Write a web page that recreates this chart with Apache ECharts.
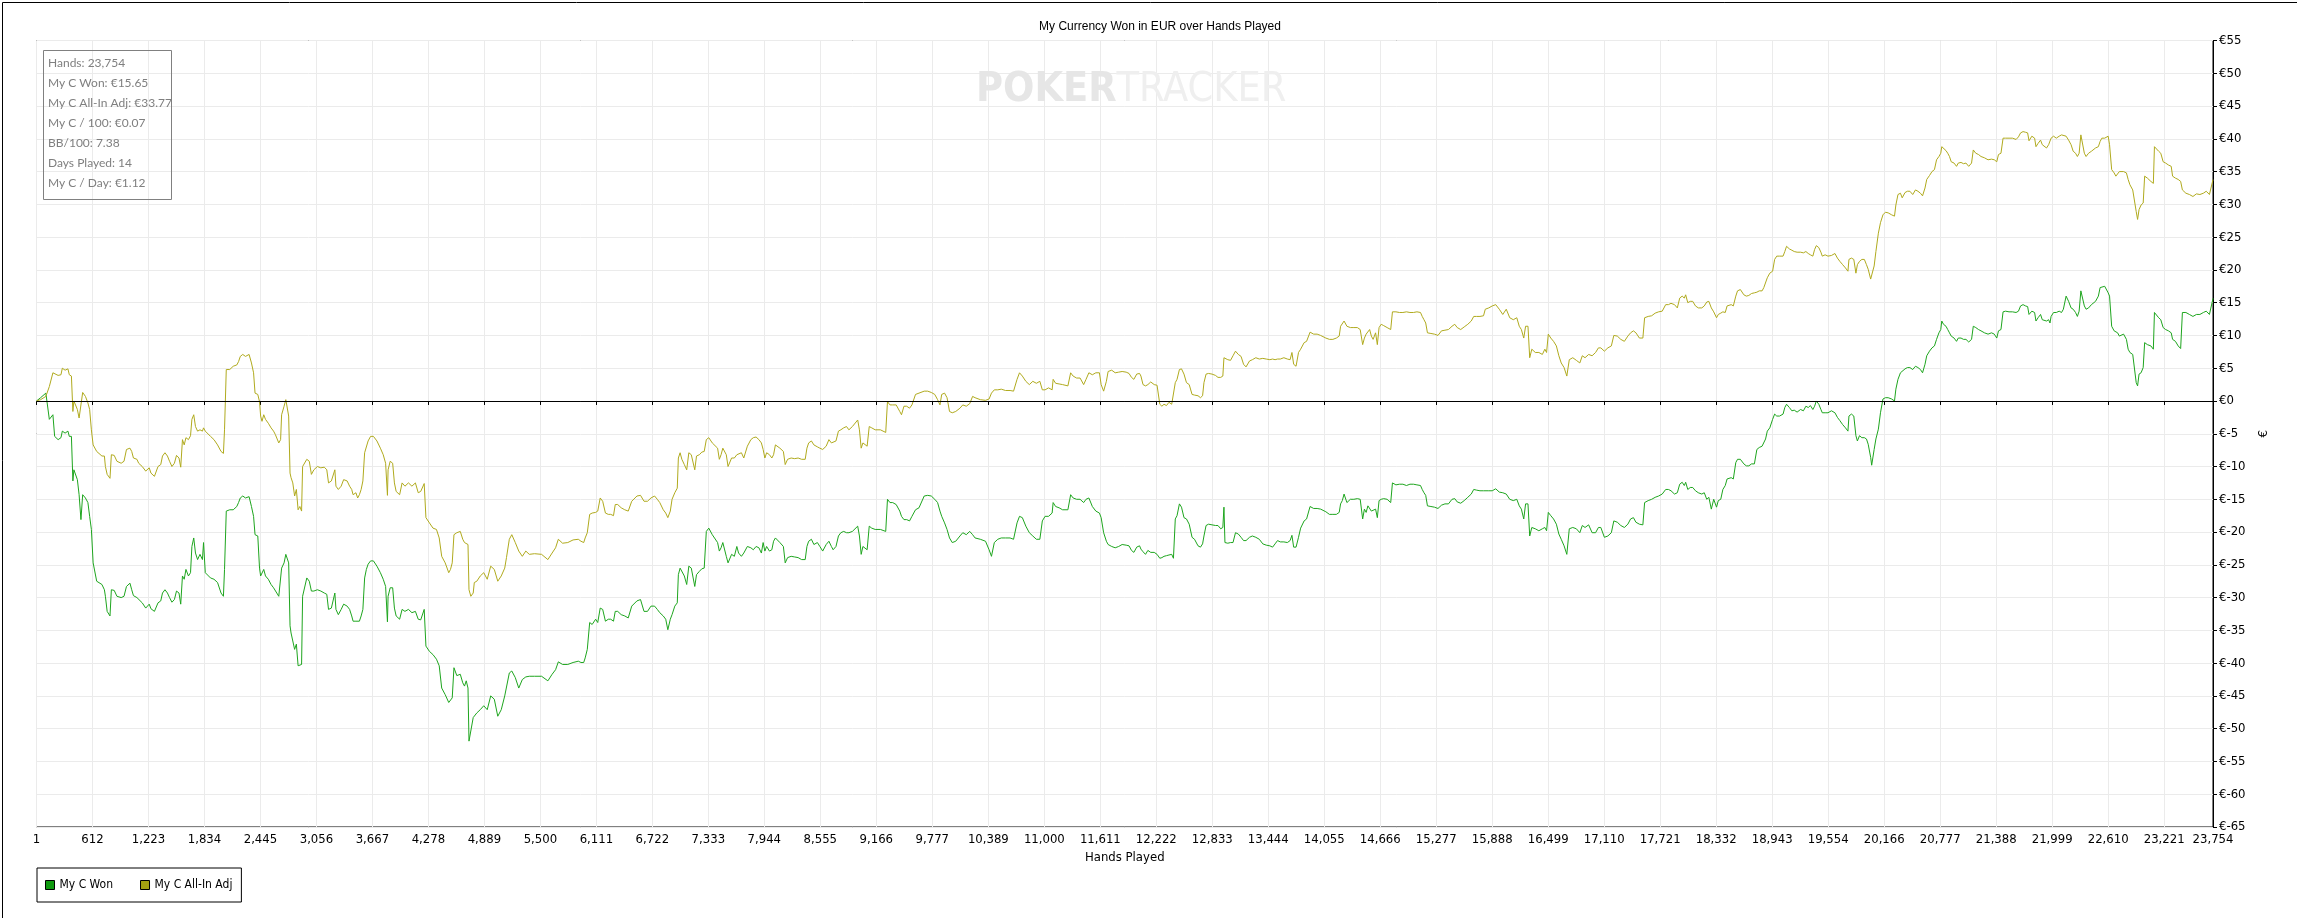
<!DOCTYPE html>
<html>
<head>
<meta charset="utf-8">
<script src="https://cdn.jsdelivr.net/npm/echarts@6/dist/echarts.min.js"></script>
<style>
html,body{margin:0;padding:0;background:#fff;}
#chart{width:2297px;height:918px;}
</style>
</head>
<body>
<div id="chart"></div>
<script>
// ---- Data ----
const titleText = 'My Currency Won in EUR over Hands Played';
const seriesNames = ['My C Won', 'My C All-In Adj'];
const xTickValues = [1,612,1223,1834,2445,3056,3667,4278,4889,5500,6111,6722,7333,7944,8555,9166,9777,10389,11000,11611,12222,12833,13444,14055,14666,15277,15888,16499,17110,17721,18332,18943,19554,20166,20777,21388,21999,22610,23221,23754];
const statsLines = ['Hands: 23,754','My C Won: €15.65','My C All-In Adj: €33.77','My C / 100: €0.07','BB/100: 7.38','Days Played: 14','My C / Day: €1.12'];

const hands = [
1,46,103,141,180,199,237,268,283,313,344,359,382,398,409,428,447,466,486,505,535,562,581,600,619,658,677,715,742,753,772,803,818,849,879,925,956,983,1021,1040,1059,1097,1116,1155,1193,1231,1250,1288,1307,1327,1357,1376,1403,1430,1453,1479,1506,1529,1556,1575,1594,1613,1632,1659,1682,1697,1717,1736,1759,1785,1812,1824,1843,1862,1900,1938,1977,2015,2041,2053,2072,2110,2148,2187,2206,2225,2252,2282,2321,2347,2370,2386,2416,2435,2447,2462,2481,2500,2531,2561,2588,2607,2645,2665,2676,2703,2722,2753,2768,2779,2798,2818,2837,2856,2875,2894,2905,2925,2951,2978,3001,3028,3066,3104,3142,3169,3188,3219,3257,3269,3295,3326,3353,3391,3418,3441,3456,3487,3506,3525,3544,3563,3582,3601,3620,3647,3678,3716,3754,3785,3811,3831,3838,3861,3888,3907,3926,3964,3991,4022,4060,4098,4136,4167,4194,4232,4251,4289,4328,4366,4396,4423,4461,4500,4519,4538,4557,4588,4626,4653,4672,4691,4710,4721,4741,4767,4779,4806,4844,4882,4920,4958,4997,5035,5073,5111,5130,5161,5188,5226,5264,5303,5341,5379,5436,5513,5582,5628,5666,5696,5742,5799,5857,5914,
5943,5973,5989,6012,6038,6065,6103,6126,6153,6180,6210,6241,6268,6298,6317,6344,6382,6421,6459,6497,6516,6554,6593,6612,6631,6669,6707,6746,6776,6803,6841,6868,6891,6918,6937,6967,6994,7006,7025,7044,7071,7097,7120,7147,7166,7185,7204,7235,7262,7288,7311,7338,7357,7376,7395,7434,7453,7472,7491,7510,7529,7548,7568,7587,7617,7644,7663,7694,7720,7740,7759,7797,7824,7854,7885,7912,7931,7950,7969,8000,8026,8045,8065,8084,8114,8152,8172,8198,8237,8275,8313,8351,8390,8409,8428,8458,8485,8523,8550,8581,8600,8619,8649,8676,8695,8726,8753,8779,8810,8841,8867,8905,8925,8963,8982,9001,9020,9039,9066,9089,9116,9154,9211,9269,9288,9315,9345,9383,9422,9441,9468,9498,9529,9555,9594,9632,9689,9727,9766,9804,9835,9861,9880,9911,9938,9965,9995,10033,10053,10079,10110,10148,10186,10217,10244,10301,10358,10377,10397,10423,10454,10492,10530,10576,10626,10664,10702,10729,10760,10798,10836,10874,10913,10951,10978,11008,11046,11085,11096,11123,11161,11199,11257,11287,11314,11352,11390,11429,11455,11486,11524,11562,11601,11620,11647,11677,11696,11735,11773,11811,11849,
11855,11893,11924,11951,11977,12008,12039,12054,12077,12104,12130,12161,12180,12199,12230,12245,12260,12283,12306,12333,12360,12390,12409,12429,12448,12474,12497,12524,12551,12581,12612,12639,12677,12704,12727,12742,12765,12792,12830,12868,12895,12925,12948,12960,12971,13002,13032,13059,13086,13117,13147,13174,13201,13239,13270,13308,13346,13384,13422,13461,13491,13518,13545,13575,13614,13652,13682,13702,13721,13747,13774,13797,13835,13862,13900,13939,13977,14015,14072,14111,14149,14187,14218,14233,14252,14271,14302,14340,14378,14416,14447,14474,14493,14512,14531,14550,14569,14588,14615,14634,14653,14676,14703,14741,14780,14799,14837,14875,14913,14952,14990,15028,15066,15105,15124,15143,15162,15181,15219,15257,15296,15334,15372,15410,15449,15479,15506,15544,15582,15621,15659,15686,15716,15754,15793,15812,15850,15888,15926,15965,16003,16041,16079,16118,16156,16183,16206,16232,16252,16278,16297,16320,16358,16397,16435,16462,16481,16500,16527,16557,16588,16615,16641,16672,16702,16729,16767,16806,16844,16871,16901,16940,16978,17016,17047,17073,17112,17150,17188,17215,17253,17291,17330,17368,17398,17429,17456,17494,17532,17551,17590,17628,17666,17704,17743,17781,17811,
17820,17839,17877,17908,17934,17961,17984,17999,18022,18049,18076,18106,18137,18175,18202,18229,18252,18279,18305,18336,18355,18382,18405,18431,18451,18470,18496,18519,18546,18565,18596,18611,18634,18661,18688,18718,18749,18776,18802,18833,18852,18871,18890,18917,18948,18970,18993,19024,19062,19081,19100,19131,19158,19184,19215,19253,19284,19311,19337,19360,19387,19406,19425,19452,19475,19490,19521,19552,19590,19628,19655,19682,19712,19743,19770,19781,19808,19834,19857,19873,19896,19922,19949,19972,19991,20018,20029,20056,20075,20102,20125,20152,20179,20209,20247,20278,20293,20316,20343,20362,20393,20419,20446,20477,20507,20534,20561,20584,20611,20630,20660,20687,20714,20737,20763,20783,20794,20813,20840,20859,20878,20897,20928,20955,20974,21004,21031,21058,21088,21119,21138,21165,21195,21222,21260,21299,21337,21367,21394,21413,21440,21463,21490,21528,21566,21605,21631,21654,21681,21708,21731,21746,21777,21807,21822,21845,21872,21891,21910,21937,21960,21975,21987,22014,22044,22075,22101,22121,22151,22178,22205,22228,22254,22274,22293,22312,22331,22350,22369,22396,22427,22446,22472,22503,22522,22541,22572,22587,22610,22625,22648,22675,22694,22713,22732,22751,22778,22809,22828,22847,22878,22893,22916,22931,22947,22969,22992,23008,23038,23076,23103,23115,23134,23161,23184,23210,23237,23268,23298,23313,23344,23374,23401,23420,23458,23497,23535,23573,23611,23649,23680,23699,23715,23754
];

const allInAdj = [
0,0.2,0.7,2.2,4.3,4.3,3.9,4.0,5.0,4.7,4.9,4.0,3.8,-1.6,0,0.1,-1.3,-2.6,-2.6,1.3,0.7,-0.3,-1.3,-4.4,-6.7,-7.7,-7.9,-8.4,-8.4,-10.0,-11.2,-11.8,-8.2,-8.3,-9.2,-9.5,-9.2,-7.4,-7.2,-7.7,-8.7,-8.9,-9.5,-10.0,-10.7,-10.2,-11.0,-11.5,-11.2,-10.0,-9.7,-8.4,-7.9,-8.4,-9.2,-10.0,-9.5,-8.3,-8.7,-10.1,-5.9,-6.7,-5.6,-5.9,-5.3,-2.8,-2.1,-3.9,-4.6,-4.4,-4.6,-4.1,-4.6,-4.9,-5.4,-5.9,-6.7,-7.7,-8.0,-4.4,4.8,4.8,5.3,5.5,6.0,6.8,7.1,6.8,7.1,5.8,4.3,1.2,1.0,-0.1,-2.3,-3.1,-2.1,-2.8,-3.4,-4.1,-4.6,-5.1,-6.4,-5.9,-2.1,-0.8,0.2,-2.3,-11.0,-11.7,-12.5,-14.5,-13.5,-16.6,-16.1,-16.8,-10.0,-10.0,-8.9,-9.2,-11.2,-10.5,-10.0,-10.2,-10.1,-10.5,-12.5,-12.2,-10.5,-13.0,-13.5,-13.0,-12.0,-12.2,-13.0,-13.5,-14.3,-14.0,-14.8,-14.3,-13.5,-12.2,-7.9,-7.7,-6.1,-5.4,-5.4,-6.1,-7.2,-8.2,-9.5,-14.4,-10.5,-9.2,-9.5,-12.5,-13.8,-14.3,-12.5,-13.0,-12.5,-13.0,-12.5,-14.0,-13.8,-12.6,-17.8,-18.6,-19.4,-19.6,-20.9,-23.7,-24.7,-26.2,-25.7,-24.7,-20.4,-20.1,-19.9,-21.1,-21.6,-21.4,-21.9,-28.8,-29.8,-29.3,-27.7,-27.5,-26.7,-26.2,-27.2,-25.2,-25.7,-27.5,-26.7,-25.5,-23.9,-21.1,-20.4,-21.6,-22.9,-23.7,-22.9,-23.4,-23.3,-23.4,-24.2,-23.2,-22.4,-21.1,-21.7,-21.6,-21.2,-21.1,
-21.4,-21.6,-20.9,-20.1,-17.3,-17.1,-17.0,-16.8,-14.8,-15.3,-17.1,-17.3,-17.3,-17.5,-15.8,-15.8,-16.3,-16.6,-16.8,-15.3,-15.0,-14.5,-14.4,-14.3,-15.3,-15.3,-14.8,-14.5,-15.0,-15.5,-16.6,-17.1,-17.8,-16.8,-15.0,-14.0,-13.3,-8.7,-7.9,-8.9,-9.7,-10.5,-7.9,-8.2,-8.4,-10.5,-8.4,-8.2,-7.8,-7.7,-5.9,-5.6,-5.4,-6.4,-6.7,-7.2,-8.9,-8.2,-7.2,-6.9,-8.2,-10.0,-9.7,-8.7,-8.7,-8.2,-8.4,-7.9,-8.7,-8.4,-6.9,-5.9,-5.6,-5.5,-5.9,-6.4,-7.4,-8.7,-7.9,-8.2,-8.7,-8.2,-6.7,-6.7,-7.2,-7.7,-9.7,-8.9,-8.7,-8.8,-8.7,-8.9,-8.9,-7.2,-6.4,-6.1,-6.7,-7.0,-7.2,-7.4,-7.7,-6.9,-5.9,-6.4,-6.7,-6.1,-4.6,-4.4,-4.1,-3.9,-4.4,-3.9,-3.6,-2.9,-4.4,-7.2,-6.4,-6.7,-6.9,-3.9,-4.1,-4.4,-4.4,-4.8,-0.1,-0.6,-0.6,-0.6,-1.6,-2.1,-0.8,-0.8,-1.1,-0.6,1.0,1.2,1.5,1.5,1.3,1.0,0.2,-0.6,1.0,1.2,0.5,-1.6,-1.8,-1.6,-1.8,-1.1,-0.6,-0.8,-0.4,0.7,0.5,0.2,0.1,-0.2,0.3,1.2,1.7,1.7,1.8,1.6,1.6,1.5,3.3,4.3,3.8,3.0,2.5,3.0,2.7,3.0,1.7,1.7,2.0,1.7,3.3,2.7,2.6,2.5,2.3,4.3,3.8,3.5,3.5,2.5,3.3,4.3,4.0,4.3,4.3,2.5,1.5,3.0,4.5,4.7,4.3,4.4,4.5,
4.6,4.4,4.2,3.6,3.3,4.1,4.2,3.8,2.5,2.3,2.5,2.9,2.8,2.5,2.4,2.3,-0.5,-0.8,-0.5,-0.7,-0.2,-0.5,-0.8,2.8,3.3,4.8,4.9,4.1,2.8,2.5,1.0,0.9,0.8,0.5,0.8,2.8,4.1,4.2,4.1,3.9,3.6,3.6,3.8,6.6,6.4,6.3,6.2,6.9,7.6,7.1,6.8,5.6,5.2,6.1,6.3,6.6,6.4,6.5,6.4,6.3,6.4,6.3,6.4,6.4,6.6,6.4,6.3,7.4,5.6,5.3,7.4,7.9,8.9,9.1,10.5,10.2,10.2,10.0,9.6,9.4,9.4,9.6,9.9,11.4,11.2,12.2,11.4,11.2,11.2,11.2,10.9,8.6,9.6,10.2,10.4,10.9,9.9,9.4,10.4,8.6,11.2,11.7,11.5,11.2,10.9,13.6,13.6,13.5,13.5,13.6,13.5,13.5,13.6,13.5,12.9,12.4,11.9,10.4,10.3,10.2,10.0,10.7,10.8,10.9,11.4,11.7,11.2,10.9,11.3,11.7,12.2,12.9,12.9,12.9,13.0,14.0,14.2,14.5,14.7,14.0,13.2,14.0,12.7,12.4,12.7,11.4,10.9,9.6,11.4,11.4,6.6,7.9,7.4,7.4,7.1,7.9,7.4,10.2,9.6,9.1,8.4,6.9,5.8,5.1,3.8,6.3,6.6,6.2,5.8,6.9,6.6,7.1,6.9,7.4,8.1,8.1,7.6,8.1,8.4,10.0,9.9,9.4,9.1,9.9,10.4,10.7,10.4,9.6,9.6,12.7,12.9,13.0,13.4,13.6,13.7,14.7,14.7,
14.9,14.9,14.7,14.2,15.7,16.0,15.7,16.2,15.0,15.2,15.2,14.5,14.2,14.2,14.5,15.1,15.2,14.2,13.6,12.7,13.2,13.4,13.6,13.5,14.5,14.2,14.7,14.5,16.0,16.8,17.0,17.1,16.2,16.0,16.1,16.4,16.5,16.6,16.8,16.8,17.3,17.5,18.8,19.5,19.8,21.6,22.1,22.1,22.1,22.8,23.6,23.2,23.0,22.8,22.7,22.7,22.6,22.8,22.5,22.3,22.1,23.1,23.7,23.4,22.7,22.1,22.3,22.1,22.2,22.5,21.8,21.3,20.8,20.3,19.8,21.6,21.8,21.6,19.5,20.8,21.3,21.6,21.6,20.8,20.1,18.6,18.8,20.6,22.8,25.6,27.2,28.4,28.8,28.7,28.4,28.2,29.9,31.5,31.7,31.0,31.8,32.0,32.0,31.5,32.2,32.0,31.7,31.3,32.5,33.8,34.4,35.0,35.3,36.8,37.3,37.8,38.8,38.6,38.2,37.8,37.3,36.5,36.3,35.8,36.3,36.4,36.2,36.3,35.8,36.3,38.3,37.8,37.6,37.3,37.1,36.8,36.9,36.8,36.5,37.6,37.8,40.1,40.1,40.1,40.1,39.9,40.3,40.9,41.1,41.0,40.9,39.7,40.4,40.1,38.8,39.3,39.8,39.1,39.1,38.6,39.1,38.8,40.1,40.4,40.1,40.4,40.6,40.9,40.4,39.8,39.1,38.1,37.8,37.3,37.8,40.6,40.4,37.8,37.3,37.8,38.1,37.8,38.6,38.8,39.6,40.1,40.1,40.4,40.4,39.1,35.3,34.8,34.3,34.5,35.0,35.3,35.0,34.8,33.8,33.0,32.2,32.5,28.9,27.7,29.2,29.9,30.2,34.3,34.0,33.5,33.2,38.8,38.6,38.1,37.8,36.5,36.3,36.0,35.8,34.3,34.0,33.8,33.5,32.2,31.7,31.5,31.2,31.6,31.5,31.7,32.0,32.2,31.5,33.77
];

const won = [
0,0.5,1.2,-2.8,-2.1,-5.4,-5.9,-5.6,-4.6,-4.9,-4.6,-5.4,-5.4,-12.2,-10.5,-10.7,-12.0,-14.3,-18.1,-14.3,-14.8,-15.5,-17.6,-19.6,-24.7,-27.5,-27.7,-28.0,-28.8,-29.8,-32.1,-32.8,-28.8,-28.9,-29.8,-30.0,-29.8,-28.3,-27.8,-28.8,-29.7,-30.0,-30.3,-30.8,-31.6,-31.0,-31.7,-32.1,-32.3,-30.8,-30.5,-29.3,-28.8,-29.3,-30.0,-30.7,-30.3,-29.0,-29.3,-31.0,-26.7,-27.2,-25.7,-26.7,-26.2,-22.2,-20.9,-23.2,-24.2,-23.4,-24.2,-21.6,-26.2,-26.5,-27.0,-27.2,-27.7,-29.3,-29.8,-25.7,-16.8,-16.6,-16.6,-16.1,-15.5,-14.8,-14.5,-14.8,-14.6,-16.1,-17.6,-20.4,-20.6,-25.5,-26.7,-27.0,-25.7,-26.7,-27.2,-28.0,-28.5,-28.8,-29.8,-30.0,-25.5,-24.7,-23.4,-24.7,-34.3,-35.4,-35.6,-37.9,-37.1,-40.4,-40.4,-40.2,-29.8,-29.5,-27.0,-27.5,-29.0,-29.0,-28.8,-29.0,-29.3,-29.5,-31.8,-31.6,-29.3,-31.8,-32.6,-31.8,-31.0,-31.3,-31.8,-32.8,-33.6,-33.6,-33.8,-33.6,-32.8,-31.8,-27.0,-25.7,-24.9,-24.4,-24.4,-25.2,-26.2,-27.2,-28.3,-33.7,-29.8,-28.5,-28.5,-31.6,-32.8,-33.3,-31.8,-32.1,-31.8,-32.3,-32.1,-33.3,-33.4,-31.8,-37.4,-38.2,-38.7,-39.4,-40.4,-43.8,-44.8,-46.0,-46.3,-45.3,-40.7,-41.9,-41.7,-43.0,-43.5,-42.7,-43.8,-51.9,-52.1,-48.3,-48.1,-47.6,-47.1,-46.5,-47.1,-45.0,-45.5,-48.1,-47.1,-45.0,-44.8,-41.5,-41.2,-42.2,-43.8,-42.5,-42.1,-42.0,-42.0,-42.0,-42.7,-41.7,-41.0,-39.8,-40.2,-40.2,-39.9,-39.7,
-39.9,-39.9,-39.2,-37.9,-33.8,-34.1,-33.3,-33.8,-31.6,-31.8,-33.6,-33.3,-33.3,-33.6,-32.1,-32.1,-32.6,-32.8,-33.1,-31.3,-31.0,-30.5,-30.3,-30.3,-32.1,-32.1,-31.3,-31.3,-31.8,-32.3,-32.8,-33.3,-34.9,-33.3,-32.6,-31.3,-30.8,-26.5,-25.5,-25.7,-26.7,-28.0,-25.2,-25.5,-25.7,-28.3,-26.5,-26.0,-25.6,-25.5,-19.9,-19.4,-19.6,-20.4,-20.6,-21.6,-22.9,-22.4,-21.6,-21.4,-23.7,-24.7,-24.4,-23.4,-23.7,-22.2,-23.2,-23.7,-23.2,-23.4,-22.2,-22.4,-22.7,-22.2,-22.4,-23.2,-21.6,-22.9,-22.2,-22.9,-22.7,-21.4,-20.9,-21.1,-21.6,-22.2,-24.7,-23.9,-23.7,-23.8,-23.9,-24.2,-24.2,-22.2,-21.4,-21.1,-21.9,-21.6,-22.2,-22.9,-23.2,-21.9,-21.4,-22.2,-22.7,-22.2,-20.6,-20.1,-19.9,-20.1,-20.1,-19.9,-19.6,-19.1,-20.6,-23.4,-22.2,-22.4,-22.7,-19.1,-19.4,-19.6,-19.6,-19.9,-15.0,-15.5,-15.5,-15.8,-16.8,-17.6,-18.1,-18.1,-18.3,-17.6,-16.6,-16.3,-14.5,-14.4,-14.5,-15.0,-15.5,-16.8,-17.6,-18.6,-19.6,-20.9,-21.6,-21.4,-21.4,-20.6,-20.1,-20.4,-19.9,-20.4,-20.9,-21.1,-21.4,-21.6,-22.7,-23.7,-21.6,-21.1,-20.9,-20.9,-20.9,-21.1,-18.6,-17.6,-17.8,-19.1,-20.1,-20.6,-21.1,-21.1,-18.3,-17.6,-17.6,-17.1,-15.5,-16.1,-16.3,-16.6,-16.6,-14.3,-14.8,-15.0,-15.0,-15.5,-15.0,-14.8,-16.1,-16.8,-17.1,-17.8,-20.1,-21.4,-21.9,-22.2,-22.4,-22.2,-21.9,
-21.8,-22.0,-22.1,-22.8,-23.1,-22.3,-22.1,-22.6,-23.0,-23.4,-22.8,-23.1,-22.8,-23.1,-23.4,-23.1,-24.0,-23.9,-23.7,-23.6,-23.5,-23.4,-24.0,-18.0,-17.5,-15.7,-16.2,-17.8,-18.0,-18.8,-20.8,-21.1,-22.1,-22.3,-21.8,-20.6,-19.0,-18.8,-18.9,-19.0,-19.0,-19.5,-19.3,-16.2,-21.6,-21.7,-21.6,-21.6,-20.1,-20.3,-20.8,-21.3,-21.3,-20.8,-20.6,-20.8,-21.1,-21.8,-22.0,-22.1,-22.3,-21.8,-21.3,-21.5,-21.5,-21.6,-21.3,-20.5,-22.3,-22.3,-20.8,-19.4,-18.3,-18.0,-16.1,-16.4,-16.4,-16.5,-16.9,-17.3,-17.3,-17.3,-17.0,-15.7,-15.2,-14.2,-15.5,-15.0,-15.0,-14.9,-15.0,-18.0,-16.5,-17.0,-16.0,-15.7,-16.8,-16.8,-16.5,-17.8,-15.2,-15.0,-14.9,-15.0,-15.5,-12.5,-12.8,-12.7,-12.7,-12.9,-12.7,-12.7,-12.8,-12.9,-13.5,-14.0,-14.4,-16.0,-16.1,-16.2,-16.4,-15.9,-15.7,-15.7,-15.0,-14.9,-15.4,-15.6,-15.2,-14.7,-14.2,-13.5,-13.6,-13.7,-13.7,-13.9,-13.7,-13.7,-13.4,-13.9,-14.0,-14.2,-15.0,-15.2,-15.0,-16.0,-16.5,-18.0,-15.7,-15.7,-20.6,-19.3,-19.5,-19.8,-19.5,-19.3,-19.8,-17.0,-17.5,-18.0,-18.8,-20.3,-21.1,-22.1,-23.4,-19.5,-19.3,-19.5,-20.1,-19.0,-19.3,-18.9,-20.1,-20.1,-19.3,-19.3,-20.8,-20.6,-20.1,-18.3,-18.5,-19.0,-19.3,-18.8,-18.0,-17.8,-18.5,-18.8,-18.9,-15.5,-15.2,-15.0,-14.7,-14.5,-14.2,-13.5,-13.5,
-13.6,-13.7,-14.2,-14.0,-12.7,-12.4,-12.9,-12.4,-13.5,-13.2,-13.2,-13.7,-14.0,-14.2,-14.0,-15.0,-14.7,-16.5,-15.0,-16.2,-15.2,-15.0,-13.5,-12.9,-11.9,-12.2,-11.7,-11.9,-9.4,-8.9,-8.9,-9.1,-9.6,-9.9,-9.9,-9.6,-9.6,-7.4,-7.1,-6.9,-6.6,-5.8,-4.6,-4.1,-2.8,-2.0,-2.3,-2.3,-2.0,-1.0,-0.5,-1.0,-1.5,-1.4,-1.7,-1.3,-1.5,-0.8,-1.0,-0.7,-1.3,-0.8,0.0,-0.5,-1.3,-1.8,-1.8,-1.8,-1.5,-1.8,-2.5,-3.0,-3.6,-4.1,-4.6,-2.3,-2.0,-2.3,-5.3,-6.1,-5.3,-5.6,-5.6,-5.8,-6.6,-8.6,-9.8,-7.4,-5.8,-4.3,-1.8,0.3,0.5,0.5,0.3,0.0,1.8,3.3,4.3,4.1,4.9,5.1,5.1,4.8,5.3,5.1,4.8,4.3,5.6,6.9,7.6,8.1,8.4,9.4,10.4,10.9,12.2,11.7,11.4,10.9,10.4,9.9,9.6,9.1,9.6,9.6,9.4,9.4,9.0,9.4,11.4,11.2,10.9,10.7,10.4,10.2,10.4,10.2,9.6,10.7,10.9,13.6,13.7,13.6,13.6,13.5,13.7,14.5,14.7,14.5,14.4,13.2,13.7,13.5,12.2,12.7,13.2,12.4,12.7,12.2,12.4,11.9,12.9,13.5,13.5,13.7,13.5,14.0,16.0,15.2,14.2,14.0,13.5,12.9,13.7,16.8,16.5,14.5,14.0,14.2,14.7,14.7,15.2,16.0,17.3,17.3,17.5,17.3,16.5,16.0,11.4,10.7,10.9,10.4,9.9,9.9,10.2,9.4,7.9,7.4,7.1,6.9,2.8,2.3,4.1,4.3,5.1,8.9,8.6,8.4,7.9,13.5,13.5,12.7,12.4,11.2,10.9,10.7,10.4,9.4,9.1,8.4,8.0,13.5,13.5,13.2,12.9,13.2,13.2,13.5,13.7,14.0,13.2,15.65
];

// ---- Chart ----
const fmtThousands = v => String(Math.round(v)).replace(/\B(?=(\d{3})+(?!\d))/g, ',');
const axisFont = "'Liberation Sans Narrow','DejaVu Sans Condensed','Liberation Sans',sans-serif";
const wonSeries = hands.map((h, i) => [h, won[i]]);
const adjSeries = hands.map((h, i) => [h, allInAdj[i]]);

const chart = echarts.init(document.getElementById('chart'), null, {renderer: 'canvas'});
chart.setOption({
  animation: false,
  backgroundColor: '#fff',
  title: {
    text: titleText,
    left: 1155, top: 16, textAlign: 'center',
    textStyle: {fontFamily: "'Liberation Sans',Arial,sans-serif", fontSize: 12, fontWeight: 'normal', color: '#000'}
  },
  grid: {left: 36.5, right: 84, top: 40.5, bottom: 91, show: true, borderColor: '#000', borderWidth: 1, containLabel: false},
  legend: {
    left: 37, top: 868, orient: 'horizontal',
    borderColor: '#000', borderWidth: 1, padding: [11, 9, 11, 8],
    itemWidth: 9, itemHeight: 9, itemGap: 27, icon: 'rect',
    textStyle: {fontFamily: axisFont, fontSize: 12, color: '#000'},
    data: [
      {name: seriesNames[0], itemStyle: {color: '#0f9a0f', borderColor: '#000', borderWidth: 1}},
      {name: seriesNames[1], itemStyle: {color: '#a3a011', borderColor: '#000', borderWidth: 1}}
    ]
  },
  xAxis: {
    type: 'value', min: 1, max: 23754,
    name: 'Hands Played', nameLocation: 'middle', nameGap: 24,
    nameTextStyle: {fontFamily: axisFont, fontSize: 13, color: '#000'},
    axisLine: {show: true, lineStyle: {color: '#000', width: 1}},
    axisTick: {show: true, length: 4, customValues: xTickValues, lineStyle: {color: '#000'}},
    axisLabel: {customValues: xTickValues, formatter: fmtThousands, margin: 6, fontFamily: axisFont, fontSize: 13, color: '#000', showMinLabel: true, showMaxLabel: true},
    splitLine: {show: true, lineStyle: {color: '#ebebeb', width: 1}}
  },
  yAxis: {
    type: 'value', position: 'right', min: -65, max: 55, interval: 5,
    name: '€', nameLocation: 'middle', nameRotate: 90, nameGap: 44,
    nameTextStyle: {fontFamily: axisFont, fontSize: 13, color: '#000'},
    axisLine: {show: true, lineStyle: {color: '#000', width: 1}},
    axisTick: {show: true, length: 4, lineStyle: {color: '#000'}},
    axisLabel: {formatter: v => '€' + v, margin: 6, fontFamily: axisFont, fontSize: 13, color: '#000'},
    splitLine: {show: true, lineStyle: {color: '#ebebeb', width: 1}}
  },
  series: [
    {
      name: seriesNames[0], type: 'line', data: wonSeries, showSymbol: false, symbol: 'none',
      lineStyle: {color: '#1ea51e', width: 1}, itemStyle: {color: '#1ea51e'}, z: 3,
      markLine: {
        silent: true, symbol: ['none', 'none'], animation: false,
        label: {show: false},
        lineStyle: {color: '#000', width: 1, type: 'solid'},
        data: [{yAxis: 0}]
      }
    },
    {
      name: seriesNames[1], type: 'line', data: adjSeries, showSymbol: false, symbol: 'none',
      lineStyle: {color: '#b0aa1e', width: 1}, itemStyle: {color: '#b0aa1e'}, z: 3
    }
  ],
  graphic: [
    {type: 'rect', left: 0, top: 0, silent: true, z: 100,
      shape: {x: 0.5, y: 0.5, width: 2296, height: 917},
      style: {fill: 'none', stroke: '#000', lineWidth: 1}},
    {type: 'text', x: 976, y: 90, silent: true, z: 1,
      style: {text: '{a|POKER}{b|TRACKER}', verticalAlign: 'middle',
        rich: {
          a: {fontFamily: "'Liberation Sans Narrow','DejaVu Sans Condensed',sans-serif", fontSize: 41, fontWeight: 'bold', fill: '#e6e6e6'},
          b: {fontFamily: "'Liberation Sans Narrow','DejaVu Sans Condensed',sans-serif", fontSize: 41, fontWeight: 'normal', fill: '#efefef'}
        }}},
    {type: 'rect', silent: true, z: 10,
      shape: {x: 43.5, y: 50.5, width: 128, height: 149},
      style: {fill: 'none', stroke: '#808080', lineWidth: 1}},
    ...statsLines.map((t, i) => ({
      type: 'text', silent: true, z: 10, x: 48, y: 62.7 + i * 20,
      style: {text: t, verticalAlign: 'middle', fontFamily: "Lato,'Noto Sans',sans-serif", fontSize: 12, fill: '#7f7f7f'}
    }))
  ]
});
</script>
</body>
</html>
